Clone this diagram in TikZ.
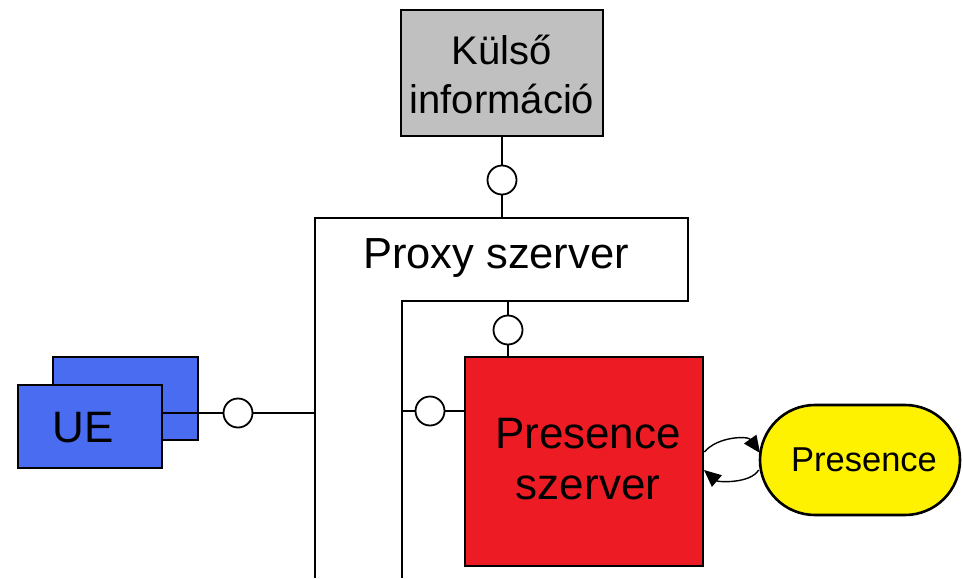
\documentclass[tikz,border=0pt]{standalone}
\usepackage{fontspec}
\setmainfont{Liberation Sans}
\usetikzlibrary{arrows.meta}
\definecolor{ueblue}{RGB}{74,108,240}
\definecolor{srvred}{RGB}{237,28,36}
\definecolor{presyel}{RGB}{255,242,0}
\definecolor{extgrey}{RGB}{192,192,192}
\tikzset{
  boxline/.style={draw=black, line width=2.6pt},
  conn/.style={draw=black, line width=1.6pt},
  iface/.style={circle, draw=black, line width=1.8pt, fill=white, minimum size=29pt, inner sep=0pt},
  lbl/.style={font=\fontsize{40}{46}\selectfont, align=center, inner sep=0pt},
}
\begin{document}
\begin{tikzpicture}[x=1pt,y=-1pt]
\useasboundingbox (0,0) rectangle (963,578);
% external info
\node[boxline, fill=extgrey, minimum width=202pt, minimum height=126pt, inner sep=0pt] (ext) at (502,73) {};
\node[lbl, font=\fontsize{40}{49}\selectfont] (extt) at (502,74) {Külső\\információ};
% proxy
\coordinate (ptop) at (502,218);
\coordinate (pin) at (508,301);
\coordinate (pleft) at (402,411);
\coordinate (pouter) at (315,413);
\draw[boxline, line join=miter] (315,578) -- (315,218) -- (688,218) -- (688,301) -- (402,301) -- (402,578);
\node[lbl, font=\fontsize{43.5}{48}\selectfont] (proxyt) at (496,258) {Proxy szerver};
% presence server
\node[boxline, fill=srvred, minimum width=238pt, minimum height=209pt, inner sep=0pt] (srv) at (584,461.5) {};
\node[lbl, font=\fontsize{44}{51}\selectfont] (srvt) at (588,459) {Presence\\szerver};
% presence
\node[boxline, fill=presyel, rounded corners=55pt, minimum width=200pt, minimum height=110pt, inner sep=0pt] (pres) at (860,460) {};
\node[lbl, font=\fontsize{34.5}{40}\selectfont] (prest) at (864,460) {Presence};
% UE
\node[boxline, fill=ueblue, minimum width=145pt, minimum height=83pt, inner sep=0pt] (ueback) at (125.5,398.5) {};
\node[boxline, fill=ueblue, minimum width=144pt, minimum height=83pt, inner sep=0pt] (ue) at (90,426.5) {};
\node[lbl, font=\fontsize{44}{48}\selectfont] (uet) at (83,428) {UE};
% interfaces
\node[iface] (c1) at (502,180) {};
\node[iface] (c2) at (508,330) {};
\node[iface] (c3) at (430,411) {};
\node[iface] (c4) at (238,413) {};
\draw[conn] (ext.south) -- (c1.north);
\draw[conn] (c1.south) -- (ptop);
\draw[conn] (pin) -- (c2.north);
\draw[conn] (c2.south) -- (srv.north -| c2);
\draw[conn] (pleft) -- (c3.west);
\draw[conn] (c3.east) -- (srv.west |- c3);
\draw[conn] (c4 -| ue.east) -- (c4.west);
\draw[conn] (c4.east) -- (pouter);
% arrows
\draw[conn, line width=1.4pt, -{Triangle[length=17pt,width=15pt]}] (srv.east |- 0,452) .. controls (718,436) and (748,436) .. (760,453);
\draw[conn, line width=1.4pt, -{Triangle[length=17pt,width=15pt]}] (pres.west |- 0,470) .. controls (750,484) and (718,482) .. (704,470);
\end{tikzpicture}
\end{document}
